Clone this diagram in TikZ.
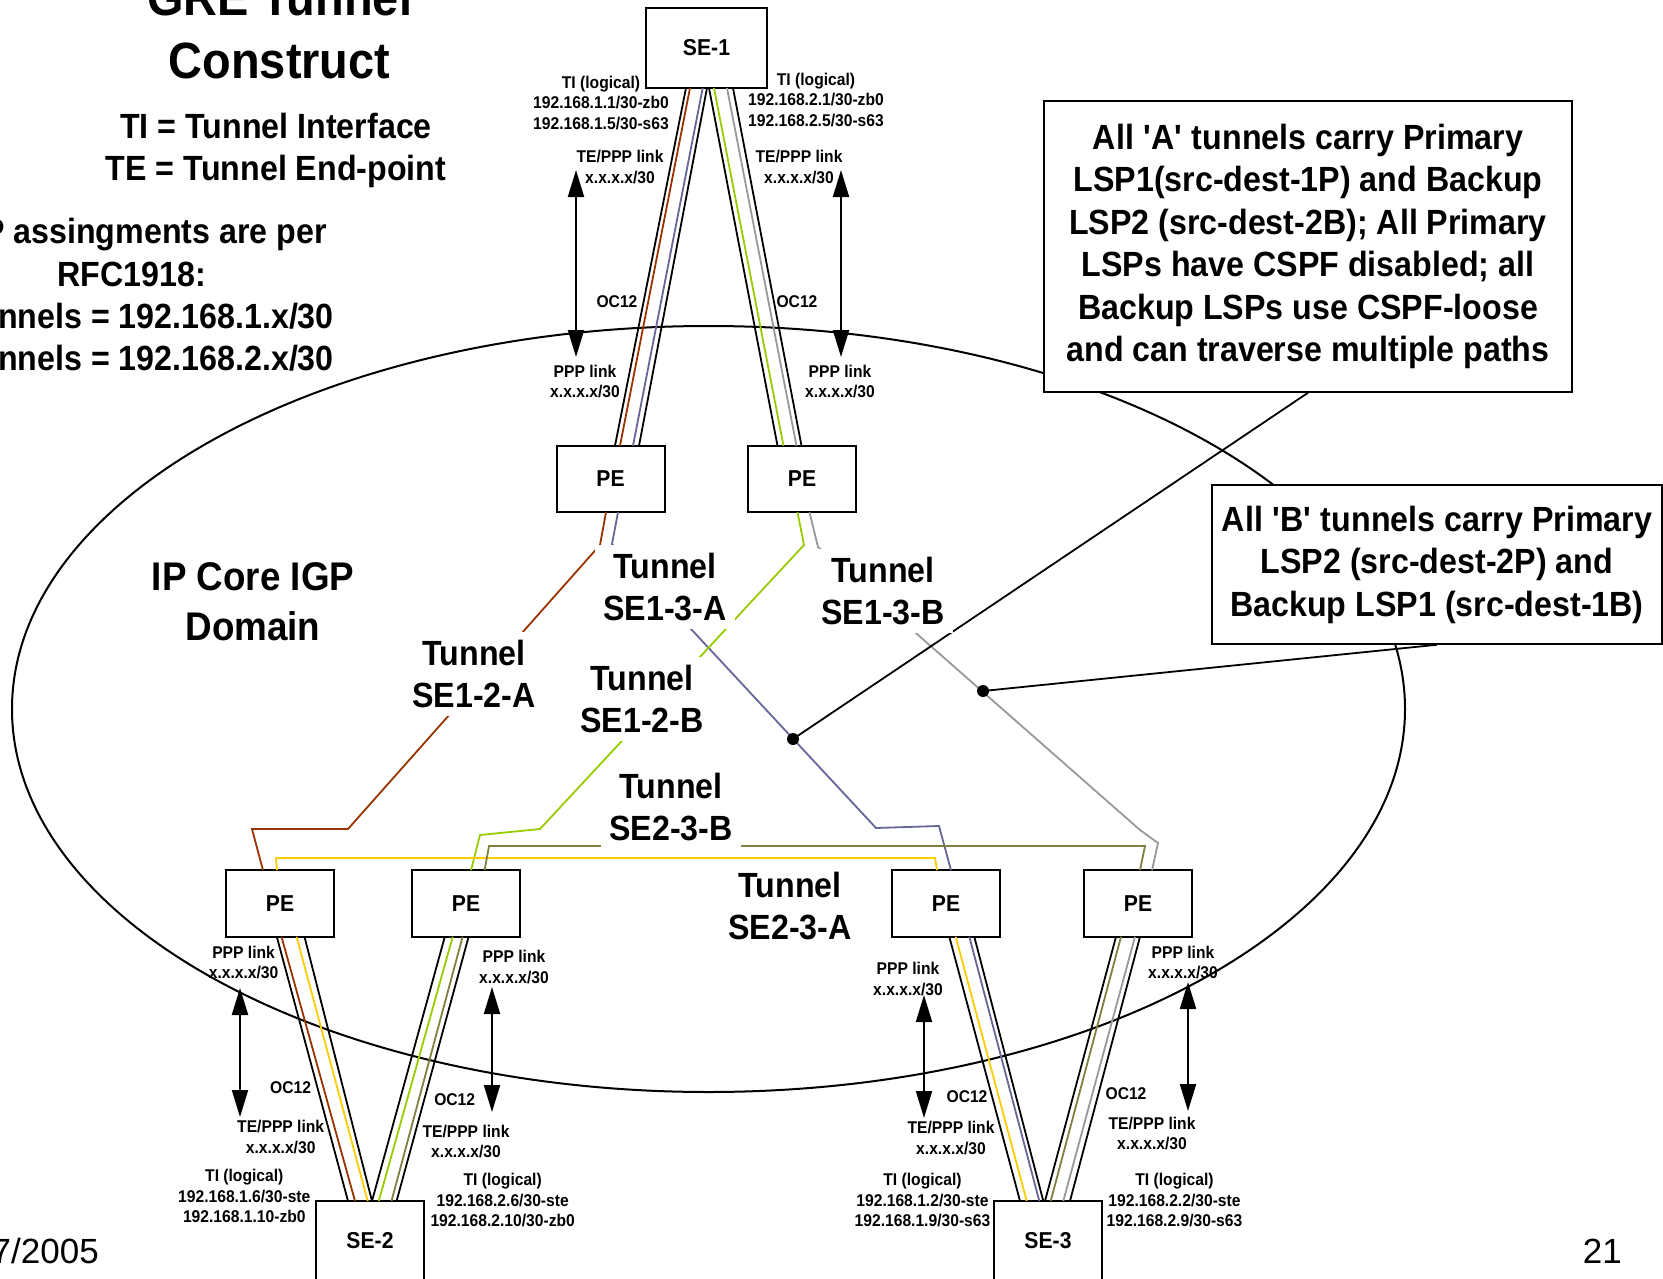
\documentclass[tikz,border=0pt]{standalone}
\usepackage{fontspec}
\setmainfont{Liberation Sans}[FakeStretch=0.92]
\newfontfamily\footfont{Liberation Sans}
\usepackage{tikz}
\newcommand*{\setfs}[2]{\fontsize{#1}{#2}\selectfont\bfseries}
\usetikzlibrary{arrows.meta, positioning}
\definecolor{brownA}{RGB}{153,51,0}
\definecolor{blueA}{RGB}{102,102,153}
\definecolor{greenB}{RGB}{153,204,0}
\definecolor{grayB}{RGB}{153,153,153}
\definecolor{yellowA}{RGB}{255,204,0}
\definecolor{oliveB}{RGB}{128,128,64}
\tikzstyle{box} = [draw, fill=white, line width=2pt, outer sep=0pt, inner sep=0pt, font=\setfs{23}{27}]
\tikzstyle{sebox} = [box, minimum width=121pt, minimum height=80pt]
\tikzstyle{pebox} = [box, minimum width=108pt, minimum height=66.5pt]
\tikzstyle{note} = [draw, fill=white, line width=1.5pt, align=center, inner sep=0pt]
\tikzstyle{tunnel name} = [fill=white, align=center, inner xsep=8pt, inner ysep=8pt, font=\setfs{35}{42}]
\tikzstyle{info} = [align=center, inner sep=0pt, font=\setfs{17}{20.5}]
\tikzstyle{big} = [align=center, inner sep=0pt, font=\setfs{35}{42}]
\tikzstyle{pipe} = [line width=1.8pt]
\tikzstyle{lsp} = [line width=1.8pt]
\tikzstyle{ppp} = [{Triangle[length=27pt, width=16pt]}-{Triangle[length=27pt, width=16pt]}, line width=2pt]
\tikzstyle{tap} = [circle, fill, inner sep=0pt, minimum size=12pt]

\begin{document}
\begin{tikzpicture}[x=1pt, y=-1pt]
    \useasboundingbox (0,0) rectangle (1663,1279);
    \clip (0,0) rectangle (1663,1279);
    \fill [white] (0,0) rectangle (1663,1279);

    % IP core.
    \draw [line width=2pt] (708.5,709) ellipse [x radius=696.5pt, y radius=383pt];

    % Routers.
    \node (se1) [sebox] at (706.5,48) {SE-1};
    \node (se2) [sebox, minimum width=108pt] at (370,1241) {SE-2};
    \node (se3) [sebox, minimum width=108pt] at (1048,1241) {SE-3};

    \node (pe1l) [pebox] at (610.5,479) {PE};
    \node (pe1r) [pebox, right=83.5pt of pe1l] {PE};
    \node (pe2l) [pebox] at (280,903.5) {PE};
    \node (pe2r) [pebox, right=78pt of pe2l] {PE};
    \node (pe3l) [pebox] at (946,903.5) {PE};
    \node (pe3r) [pebox, right=84pt of pe3l] {PE};

    % Notes.
    \node (noteA) [note, minimum width=528pt, minimum height=291pt, font=\setfs{35}{42.4}] at (1308,246.5)
        {All \textquotesingle A\textquotesingle{} tunnels carry Primary\\LSP1(src-dest-1P) and Backup\\LSP2 (src-dest-2B); All Primary\\LSPs have CSPF disabled; all\\Backup LSPs use CSPF-loose\\and can traverse multiple paths};
    \node (noteB) [note, minimum width=450pt, minimum height=159pt, font=\setfs{35}{42.5}] at (1437,564.5)
        {All \textquotesingle B\textquotesingle{} tunnels carry Primary\\LSP2 (src-dest-2P) and\\Backup LSP1 (src-dest-1B)};

    % Access links.
    \foreach \a/\p/\b/\q in {se1/-20.5pt/pe1l/4.5pt, se1/0.5pt/pe1l/28.5pt, se1/2.5pt/pe1r/-24.5pt, se1/26.5pt/pe1r/-0.5pt,
        pe2l/-3.2pt/se2/-22pt, pe2l/24.5pt/se2/2pt, pe2r/-21.2pt/se2/2pt, pe2r/2.6pt/se2/26.6pt,
        pe3l/3.3pt/se3/-28pt, pe3l/28.3pt/se3/-4.7pt, pe3r/-22pt/se3/-3pt, pe3r/2pt/se3/22pt} {
        \draw [pipe] ([xshift=\p]\a.south) -- ([xshift=\q]\b.north);
    }

    % Tunnels.
    \draw [lsp, brownA] ([xshift=-16.5pt]se1.south) -- ([xshift=9.5pt]pe1l.north)
        ([xshift=-4.5pt]pe1l.south) -- (600,545) -- (348,829) -- (252,829) -- ([xshift=-17pt]pe2l.north)
        ([xshift=1.5pt]pe2l.south) -- ([xshift=-15pt]se2.north);
    \draw [lsp, blueA] ([xshift=-3.8pt]se1.south) -- ([xshift=22.5pt]pe1l.north)
        ([xshift=7.5pt]pe1l.south) -- (612,544) -- (876,828) -- (939,826) -- ([xshift=5pt]pe3l.north)
        ([xshift=23.3pt]pe3l.south) -- ([xshift=-8.7pt]se3.north);
    \draw [lsp, greenB] ([xshift=7.5pt]se1.south) -- ([xshift=-18.5pt]pe1r.north)
        ([xshift=-4.5pt]pe1r.south) -- (804,545) -- (540,829) -- (480,835) -- ([xshift=5pt]pe2r.north)
        ([xshift=-13.3pt]pe2r.south) -- ([xshift=8.8pt]se2.north);
    \draw [lsp, grayB] ([xshift=20.5pt]se1.south) -- ([xshift=-5.5pt]pe1r.north)
        ([xshift=7.5pt]pe1r.south) -- (818,547) -- (1140,830) -- (1158,843) -- ([xshift=14pt]pe3r.north)
        ([xshift=-3pt]pe3r.south) -- ([xshift=15.3pt]se3.north);
    \draw [lsp, yellowA] ([xshift=-2.3pt]se2.north) -- ([xshift=16.6pt]pe2l.south)
        ([xshift=-3pt]pe2l.north) -- (276,858) -- (935,858) -- ([xshift=-9pt]pe3l.north)
        ([xshift=9.7pt]pe3l.south) -- ([xshift=-21.3pt]se3.north);
    \draw [lsp, oliveB] ([xshift=21.5pt]se2.north) -- ([xshift=-3.4pt]pe2r.south)
        ([xshift=18.6pt]pe2r.north) -- (489,846) -- (1145,846) -- ([xshift=2pt]pe3r.north)
        ([xshift=-17pt]pe3r.south) -- ([xshift=2.7pt]se3.north);

    % Link arrows.
    \foreach \n/\x/\ya/\yb in {1l/576/170/357, 1r/841/170/357, 2l/240/988/1117, 2r/492/987/1112, 3l/924/995/1118, 3r/1188/982/1111} {
        \coordinate (up\n) at (\x,\ya);
        \coordinate (dn\n) at (\x,\yb);
        \draw [ppp] (up\n) -- (dn\n);
    }

    % Callouts.
    \node (tapA) [tap] at (793,739) {};
    \node (tapB) [tap] at (983,691) {};
    \draw [lsp] (noteA.south) -- (tapA.center);
    \draw [lsp] (noteB.south) -- (tapB.center);

    % Tunnel names.
    \node (tun13a) [tunnel name] at (665,587) {Tunnel\\SE1-3-A};
    \node (tun13b) [tunnel name] at (883,591) {Tunnel\\SE1-3-B};
    \node (tun12a) [tunnel name] at (474,674) {Tunnel\\SE1-2-A};
    \node (tun12b) [tunnel name] at (642,699) {Tunnel\\SE1-2-B};
    \node (tun23b) [tunnel name] at (671,807) {Tunnel\\SE2-3-B};
    \node (tun23a) [tunnel name] at (790,906) {Tunnel\\SE2-3-A};

    % Link labels.
    \node (ti1l) [info] at (601,103) {TI (logical)\\192.168.1.1/30-zb0\\192.168.1.5/30-s63};
    \node (ti1r) [info] at (816,100) {TI (logical)\\192.168.2.1/30-zb0\\192.168.2.5/30-s63};
    \node (ti2l) [info] at (244.3,1196) {TI (logical)\\192.168.1.6/30-ste\\192.168.1.10-zb0};
    \node (ti2r) [info] at (502.7,1200) {TI (logical)\\192.168.2.6/30-ste\\192.168.2.10/30-zb0};
    \node (ti3l) [info] at (922.5,1200) {TI (logical)\\192.168.1.2/30-ste\\192.168.1.9/30-s63};
    \node (ti3r) [info] at (1174.5,1200) {TI (logical)\\192.168.2.2/30-ste\\192.168.2.9/30-s63};

    \foreach \n/\x/\y in {1l/620/167, 1r/799/167, 2l/280.7/1137, 2r/466/1141.5, 3l/951/1138, 3r/1152/1133.5} {
        \node (te\n) [info] at (\x,\y) {TE/PPP link\\x.x.x.x/30};
    }
    \foreach \n/\x/\y in {1l/585/381.5, 1r/840/381.5, 2l/243.6/962.5, 2r/514/967, 3l/908/979, 3r/1183/962.5} {
        \node (ppp\n) [info] at (\x,\y) {PPP link\\x.x.x.x/30};
    }
    \foreach \n/\x/\y in {1l/617/302, 1r/797/302, 2l/290.6/1088, 2r/454.7/1100, 3l/967/1097, 3r/1126/1094} {
        \node (oc\n) [info] at (\x,\y) {OC12};
    }

    % Titles.
    \node (title) [align=center, inner sep=0pt, font=\setfs{51}{63}] at (279.5,29) {GRE Tunnel\\Construct};
    \node (legend) [big, font=\setfs{35}{42.5}] at (276,150.5) {TI = Tunnel Interface\\TE = Tunnel End-point};
    \node (rfc1) [big, anchor=east] at (327,235) {IP assingments are per};
    \node (rfc2) [big] at (132,274) {RFC1918:};
    \node (rfc3) [big, anchor=east] at (334,316) {Tunnels = 192.168.1.x/30};
    \node (rfc4) [big, anchor=east] at (334,358) {Tunnels = 192.168.2.x/30};
    \node (core) [align=center, inner sep=0pt, font=\setfs{40}{50}] at (253,602) {IP Core IGP\\Domain};

    % Footer.
    \node (date) [anchor=base east, inner sep=0pt, font=\footfont\fontsize{35}{42}\selectfont] at (99,1263) {7/2005};
    \node (page) [anchor=base east, inner sep=0pt, font=\footfont\fontsize{35}{42}\selectfont] at (1622,1263) {21};
\end{tikzpicture}
\end{document}
